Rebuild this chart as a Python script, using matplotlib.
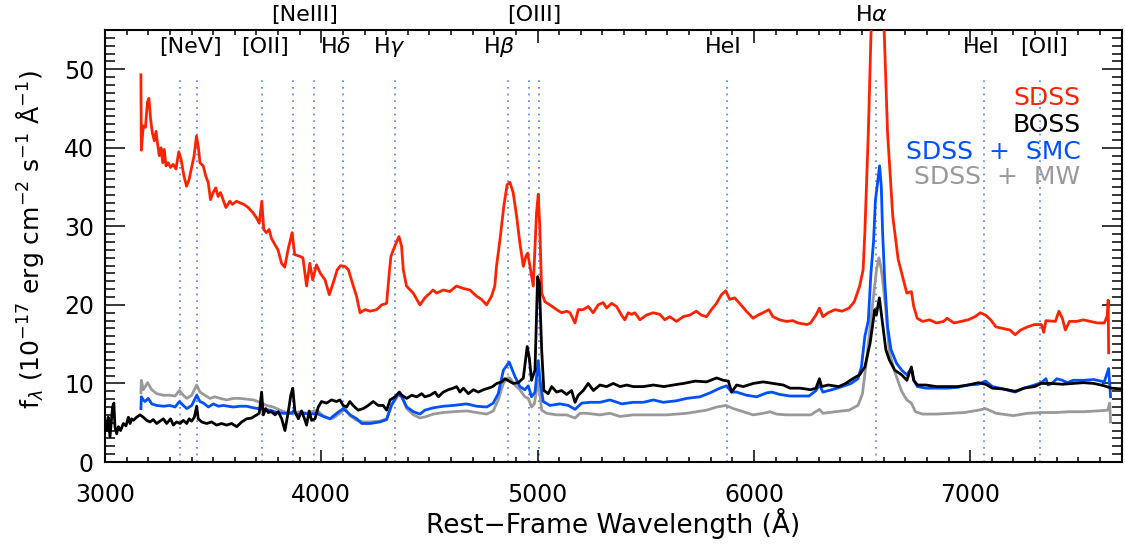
import matplotlib
matplotlib.use("Agg")
import matplotlib.pyplot as plt
import matplotlib.transforms as mtransforms
from matplotlib.ticker import MultipleLocator

plt.rcParams['font.family'] = ['DejaVu Sans']
plt.rcParams['mathtext.fontset'] = 'dejavusans'

# ---------------- data ----------------
red_wave = [3166, 3168, 3177, 3187, 3196, 3203, 3211, 3219, 3228, 3236, 3242, 3251, 3259, 3267, 3274,
            3282, 3292, 3303, 3315, 3328, 3341, 3352, 3365, 3377, 3389, 3402, 3412, 3423, 3432, 3439,
            3454, 3466, 3477, 3488, 3500, 3512, 3523, 3534, 3546, 3559, 3577, 3589, 3608, 3623, 3642,
            3662, 3685, 3700, 3713, 3725, 3734, 3746, 3759, 3769, 3785, 3800, 3816, 3831, 3846, 3865,
            3877, 3900, 3915, 3932, 3947, 3960, 3978, 3994, 4017, 4037, 4055, 4074, 4089, 4109, 4125,
            4148, 4163, 4179, 4202, 4225, 4256, 4279, 4302, 4314, 4322, 4340, 4359, 4371, 4379, 4394,
            4425, 4456, 4479, 4502, 4517, 4533, 4564, 4594, 4625, 4656, 4687, 4718, 4741, 4764, 4787,
            4802, 4810, 4826, 4844, 4859, 4872, 4887, 4903, 4918, 4934, 4946, 4954, 4965, 4980, 4995,
            5003, 5010, 5019, 5034, 5057, 5088, 5111, 5134, 5150, 5173, 5188, 5211, 5234, 5257, 5280,
            5303, 5319, 5342, 5365, 5388, 5403, 5419, 5434, 5450, 5473, 5503, 5534, 5565, 5588, 5611,
            5642, 5673, 5703, 5734, 5757, 5781, 5804, 5827, 5850, 5870, 5888, 5911, 5934, 5965, 5996,
            6019, 6042, 6069, 6088, 6119, 6150, 6180, 6203, 6246, 6262, 6287, 6303, 6319, 6343, 6375,
            6408, 6440, 6464, 6489, 6505, 6513, 6529, 6542, 6560, 6585, 6602, 6618, 6642, 6667, 6691,
            6707, 6728, 6739, 6755, 6780, 6812, 6844, 6877, 6893, 6925, 6957, 6990, 7022, 7047, 7071,
            7095, 7119, 7151, 7184, 7208, 7233, 7265, 7297, 7329, 7340, 7350, 7394, 7410, 7426, 7440,
            7459, 7491, 7523, 7555, 7588, 7620, 7634, 7638, 7640]
red_flux = [49.3, 39.7, 42.8, 42.6, 45.8, 46.3, 43.6, 41.9, 40.9, 42.1, 40.7, 39.0, 40.0, 38.1, 39.8,
            37.7, 38.1, 37.5, 37.9, 37.3, 39.5, 38.5, 36.4, 35.1, 36.0, 37.7, 39.0, 41.5, 40.0, 38.1,
            37.7, 36.4, 35.6, 33.4, 34.3, 34.9, 33.8, 34.3, 33.4, 32.4, 33.2, 32.8, 33.2, 33.0, 32.8,
            32.4, 31.7, 31.1, 30.4, 33.2, 29.6, 29.2, 29.6, 28.5, 27.7, 27.0, 25.3, 24.8, 27.0, 29.2,
            26.4, 26.2, 26.0, 22.4, 25.3, 23.2, 25.1, 24.1, 23.2, 21.3, 22.8, 24.5, 25.0, 24.9, 24.5,
            22.4, 21.1, 19.0, 19.4, 19.2, 19.4, 20.0, 20.2, 24.0, 26.2, 27.5, 28.7, 27.5, 24.5, 22.4,
            21.5, 20.0, 20.9, 21.5, 21.9, 21.5, 21.9, 21.7, 22.4, 22.1, 21.9, 21.1, 20.7, 20.0, 21.1,
            22.4, 24.9, 28.3, 32.6, 35.3, 35.6, 34.3, 31.3, 27.9, 24.9, 26.2, 26.6, 24.9, 22.4, 31.7,
            34.1, 30.0, 21.5, 20.4, 20.0, 19.4, 19.0, 19.2, 19.0, 17.7, 19.4, 19.4, 19.8, 19.0, 20.0,
            20.3, 19.6, 20.2, 19.8, 18.7, 18.1, 19.0, 18.8, 19.0, 18.1, 18.7, 19.0, 18.8, 18.1, 18.5,
            17.9, 18.5, 18.7, 19.2, 18.7, 18.5, 19.4, 20.2, 21.3, 21.8, 20.7, 20.9, 20.2, 19.2, 18.3,
            18.7, 19.0, 19.4, 18.5, 18.1, 17.9, 18.0, 17.7, 17.5, 17.7, 18.7, 19.6, 18.5, 19.0, 19.4,
            19.2, 19.6, 20.4, 22.4, 24.5, 29.2, 41.9, 55.1, 80.0, 80.0, 55.1, 41.9, 31.3, 25.8, 23.2,
            21.5, 21.7, 19.8, 18.3, 17.9, 18.1, 17.7, 17.9, 18.3, 17.7, 17.9, 18.1, 18.5, 19.0, 18.7,
            18.1, 17.2, 17.0, 16.8, 16.2, 16.8, 17.2, 17.5, 17.5, 16.5, 18.0, 17.9, 19.2, 18.3, 16.8,
            17.9, 17.9, 18.1, 17.9, 17.7, 17.7, 18.6, 20.6, 13.9]

boss_wave = [3000, 3008, 3015, 3023, 3035, 3041, 3046, 3054, 3062, 3072, 3085, 3097, 3108, 3116, 3123,
             3131, 3146, 3162, 3177, 3193, 3208, 3223, 3239, 3254, 3270, 3285, 3303, 3316, 3331, 3347,
             3362, 3378, 3389, 3400, 3413, 3424, 3431, 3447, 3470, 3493, 3516, 3539, 3562, 3585, 3609,
             3632, 3655, 3678, 3701, 3713, 3724, 3732, 3743, 3755, 3770, 3786, 3801, 3817, 3832, 3848,
             3859, 3868, 3878, 3894, 3909, 3925, 3932, 3944, 3955, 3971, 3986, 4001, 4024, 4047, 4070,
             4086, 4101, 4117, 4132, 4147, 4170, 4194, 4217, 4240, 4263, 4286, 4302, 4318, 4341, 4361,
             4372, 4395, 4418, 4441, 4464, 4479, 4503, 4526, 4541, 4564, 4587, 4610, 4626, 4641, 4657,
             4680, 4703, 4726, 4749, 4772, 4792, 4811, 4834, 4849, 4869, 4888, 4911, 4934, 4952, 4962,
             4972, 4988, 5000, 5008, 5019, 5029, 5049, 5065, 5088, 5111, 5134, 5157, 5173, 5188, 5211,
             5234, 5258, 5288, 5319, 5350, 5381, 5412, 5442, 5489, 5535, 5584, 5649, 5674, 5729, 5781,
             5828, 5859, 5882, 5897, 5920, 5951, 5997, 6043, 6090, 6136, 6167, 6214, 6263, 6287, 6303,
             6313, 6344, 6392, 6424, 6457, 6489, 6513, 6537, 6559, 6566, 6580, 6589, 6602, 6610, 6626,
             6651, 6683, 6707, 6728, 6739, 6756, 6796, 6844, 6893, 6940, 6990, 7038, 7071, 7103, 7152,
             7208, 7249, 7297, 7329, 7378, 7426, 7475, 7523, 7572, 7620, 7653, 7700]
boss_flux = [5.3, 4.0, 5.7, 3.2, 7.0, 7.5, 4.5, 3.6, 4.5, 4.0, 4.9, 4.6, 5.7, 4.9, 5.5,
             5.3, 5.7, 6.0, 5.7, 5.3, 5.1, 5.4, 4.9, 5.2, 5.5, 4.9, 5.5, 4.7, 5.1, 4.9,
             5.3, 4.9, 5.5, 5.2, 5.7, 7.1, 5.5, 5.1, 4.9, 5.1, 4.7, 4.9, 4.7, 4.9, 4.5,
             5.1, 5.5, 5.6, 6.0, 6.2, 8.9, 6.0, 6.8, 6.3, 6.4, 6.0, 6.4, 5.5, 4.0, 6.5,
             8.5, 9.4, 6.4, 5.5, 6.5, 5.3, 4.7, 6.5, 5.3, 5.5, 7.0, 7.7, 7.5, 7.9, 7.7,
             7.9, 7.2, 7.0, 7.7, 7.2, 6.6, 6.8, 7.2, 7.7, 7.2, 7.2, 6.6, 7.9, 8.3, 8.9,
             8.5, 8.1, 8.5, 8.3, 8.7, 8.3, 8.5, 8.9, 8.3, 8.9, 9.2, 9.4, 9.6, 8.9, 9.4,
             8.7, 9.2, 8.9, 9.2, 9.4, 9.6, 10.0, 10.2, 10.6, 10.3, 10.0, 10.1, 10.7, 14.7, 13.2,
             10.4, 11.7, 23.6, 22.8, 14.2, 9.1, 8.7, 9.6, 8.9, 9.1, 8.6, 9.1, 7.6, 8.5, 9.1,
             10.0, 9.1, 9.8, 9.6, 10.0, 9.6, 9.8, 9.6, 9.6, 9.8, 9.6, 9.9, 10.0, 10.3, 10.2,
             10.7, 10.4, 10.3, 8.9, 9.8, 9.6, 10.0, 10.2, 10.0, 9.8, 9.4, 9.4, 9.2, 9.4, 10.6,
             9.6, 9.8, 9.6, 10.0, 10.6, 11.1, 12.1, 15.1, 19.4, 18.7, 20.9, 18.9, 15.9, 14.3, 13.0,
             11.7, 11.1, 10.4, 12.1, 10.4, 9.8, 9.8, 9.6, 9.6, 9.6, 9.8, 10.1, 9.9, 9.4, 9.3,
             9.0, 9.4, 9.6, 10.0, 10.0, 9.9, 10.0, 10.1, 10.0, 9.7, 9.4, 9.3]

smc_wave = [3166, 3168, 3177, 3185, 3200, 3216, 3239, 3270, 3300, 3324, 3344, 3362, 3378, 3401, 3424,
            3439, 3455, 3478, 3501, 3524, 3547, 3570, 3593, 3624, 3655, 3686, 3709, 3732, 3763, 3794,
            3824, 3863, 3871, 3886, 3917, 3948, 3979, 4009, 4040, 4071, 4102, 4133, 4164, 4187, 4225,
            4271, 4302, 4325, 4356, 4372, 4395, 4426, 4456, 4479, 4518, 4564, 4610, 4672, 4718, 4765,
            4795, 4818, 4842, 4869, 4895, 4918, 4941, 4957, 4972, 4988, 5003, 5011, 5026, 5057, 5103,
            5142, 5173, 5204, 5242, 5288, 5335, 5389, 5442, 5489, 5535, 5581, 5643, 5689, 5751, 5797,
            5843, 5874, 5897, 5920, 5966, 6013, 6059, 6082, 6120, 6167, 6213, 6255, 6287, 6303, 6319,
            6360, 6408, 6449, 6481, 6497, 6513, 6529, 6541, 6553, 6562, 6570, 6581, 6589, 6595, 6605,
            6618, 6634, 6659, 6683, 6707, 6728, 6739, 6756, 6796, 6844, 6893, 6941, 6990, 7038, 7071,
            7103, 7152, 7208, 7249, 7297, 7329, 7350, 7360, 7378, 7400, 7426, 7450, 7475, 7523, 7572,
            7620, 7640, 7649]
smc_flux = [6.8, 8.3, 7.9, 7.7, 8.1, 7.4, 7.2, 7.1, 7.2, 7.0, 7.7, 7.2, 6.8, 7.2, 8.5,
            7.7, 7.5, 7.0, 7.4, 7.1, 7.2, 7.1, 7.0, 7.1, 7.1, 6.9, 6.8, 6.7, 6.6, 6.3,
            6.2, 6.2, 6.5, 6.0, 6.2, 6.1, 6.2, 5.8, 5.5, 6.2, 6.8, 6.0, 5.5, 4.9, 4.9,
            5.1, 5.4, 7.3, 8.7, 8.3, 7.0, 6.4, 6.1, 6.6, 6.9, 7.1, 7.2, 7.4, 7.1, 7.0,
            7.5, 8.7, 11.7, 12.7, 10.9, 9.6, 9.2, 9.7, 8.3, 8.9, 12.9, 10.4, 7.7, 7.2, 7.4,
            7.2, 6.7, 7.5, 7.6, 7.6, 7.9, 7.4, 7.6, 7.6, 7.9, 7.6, 7.8, 8.1, 8.3, 8.8,
            9.4, 9.7, 8.9, 8.9, 8.5, 8.3, 8.8, 8.9, 8.6, 8.4, 8.4, 8.4, 9.1, 9.8, 8.9,
            9.2, 9.6, 10.0, 10.6, 12.1, 16.0, 18.0, 24.0, 28.0, 33.4, 35.1, 37.7, 35.1, 29.2, 23.0,
            17.2, 14.3, 12.6, 11.7, 11.1, 11.9, 10.4, 9.6, 9.4, 9.4, 9.4, 9.5, 9.8, 9.9, 10.3,
            9.6, 9.3, 8.9, 9.4, 9.8, 10.1, 10.6, 9.8, 10.0, 10.6, 10.4, 10.1, 10.4, 10.4, 10.5,
            10.2, 11.9, 8.3]

mw_wave = [3166, 3168, 3177, 3197, 3216, 3239, 3270, 3300, 3324, 3344, 3362, 3378, 3401, 3424, 3439,
           3462, 3485, 3509, 3532, 3563, 3593, 3624, 3655, 3686, 3717, 3747, 3778, 3809, 3840, 3871,
           3902, 3932, 3979, 4009, 4040, 4056, 4086, 4110, 4133, 4164, 4194, 4225, 4271, 4302, 4325,
           4356, 4372, 4395, 4426, 4456, 4487, 4518, 4564, 4610, 4672, 4718, 4765, 4795, 4818, 4842,
           4860, 4872, 4895, 4918, 4941, 4957, 4972, 4985, 5003, 5019, 5042, 5088, 5134, 5173, 5196,
           5227, 5288, 5335, 5381, 5442, 5535, 5597, 5689, 5735, 5781, 5828, 5871, 5905, 5951, 5997,
           6043, 6074, 6105, 6151, 6213, 6263, 6303, 6319, 6376, 6440, 6481, 6502, 6521, 6546, 6567,
           6578, 6586, 6594, 6610, 6626, 6651, 6683, 6707, 6728, 6747, 6780, 6844, 6909, 6974, 7038,
           7071, 7120, 7200, 7265, 7329, 7394, 7459, 7523, 7588, 7636, 7645, 7649]
mw_flux = [8.8, 10.4, 9.2, 10.1, 9.2, 8.7, 8.5, 8.5, 8.4, 9.1, 8.5, 8.1, 8.5, 9.8, 8.9,
           8.5, 8.1, 8.3, 8.1, 7.9, 8.1, 8.1, 8.0, 7.9, 7.6, 7.2, 7.0, 6.6, 6.3, 6.3,
           6.4, 6.2, 6.6, 5.9, 5.5, 5.6, 6.2, 6.8, 5.9, 5.3, 5.1, 5.1, 5.2, 5.5, 7.2,
           8.5, 8.3, 6.8, 6.0, 5.6, 5.8, 6.1, 6.3, 6.4, 6.5, 6.3, 6.1, 6.5, 7.9, 10.0,
           10.7, 10.7, 9.8, 9.2, 8.3, 8.1, 7.0, 7.4, 10.4, 6.6, 6.2, 6.0, 6.0, 5.6, 6.2,
           6.2, 6.0, 6.2, 5.8, 6.0, 6.0, 6.0, 6.2, 6.4, 6.6, 7.0, 7.2, 6.8, 6.4, 6.0,
           6.2, 6.4, 6.1, 6.0, 6.0, 6.0, 6.7, 6.2, 6.4, 6.6, 7.2, 8.7, 13.0, 19.4, 24.5,
           26.0, 25.0, 23.5, 19.4, 14.0, 11.5, 9.0, 7.9, 7.5, 6.4, 6.1, 6.1, 6.2, 6.3, 6.6,
           6.8, 6.2, 5.9, 6.2, 6.3, 6.3, 6.4, 6.4, 6.5, 6.6, 7.5, 5.1]

line_waves = [3346, 3426, 3727, 3869, 3968, 4102, 4340, 4861, 4959, 5007, 5876, 6563, 7065, 7325]

low_labels = ['[NeV]', '[OII]', r'H$\delta$', r'H$\gamma$', r'H$\beta$', 'HeI', 'HeI', '[OII]']
low_label_x = [3393, 3740, 4068, 4315, 4820, 5859, 7052, 7340]
high_labels = ['[NeIII]', '[OIII]', r'H$\alpha$']
high_label_x = [3924, 4984, 6544]

legend_texts = ['SDSS', 'BOSS', 'SDSS  +  SMC', 'SDSS  +  MW']

# ---------------- styling ----------------
c_red = '#ff2200'
c_black = '#000000'
c_blue = '#0050ff'
c_gray = '#999999'
c_vline = '#4a78ff'

fig = plt.figure(figsize=(11.25, 5.45), dpi=100)
ax = fig.add_axes([105 / 1125, 1 - 462 / 545, 1016.6 / 1125, 432 / 545])

ax.vlines(line_waves, 0, 49.1, colors=c_vline, linestyles=(0, (1, 3)), linewidth=1.2, zorder=1)

ax.plot(red_wave, red_flux, color=c_red, lw=2.0, zorder=3)
ax.plot(mw_wave, mw_flux, color=c_gray, lw=2.0, zorder=3)
ax.plot(smc_wave, smc_flux, color=c_blue, lw=2.0, zorder=4)
ax.plot(boss_wave, boss_flux, color=c_black, lw=2.0, zorder=5)

ax.set_xlim(3000, 7700)
ax.set_ylim(0, 55)

ax.xaxis.set_major_locator(MultipleLocator(1000))
ax.xaxis.set_minor_locator(MultipleLocator(100))
ax.yaxis.set_major_locator(MultipleLocator(10))
ax.yaxis.set_minor_locator(MultipleLocator(1))

ax.tick_params(axis='both', which='both', direction='in', top=True, right=True, width=1.1)
ax.tick_params(axis='x', which='major', length=9, pad=15, labelsize=17)
ax.tick_params(axis='x', which='minor', length=3.6)
ax.tick_params(axis='y', which='major', length=14.4, pad=8, labelsize=17)
ax.tick_params(axis='y', which='minor', length=7.2)
for sp in ax.spines.values():
    sp.set_linewidth(1.5)

trans = mtransforms.blended_transform_factory(ax.transData, ax.transAxes)
for lab, xv in zip(low_labels, low_label_x):
    ax.text(xv, 0.9606, lab, transform=trans, ha='center', va='center', fontsize=16)
for lab, xv in zip(high_labels, high_label_x):
    ax.text(xv, 1.0347, lab, transform=trans, ha='center', va='center', fontsize=16, clip_on=False)

leg_colors = [c_red, c_black, c_blue, c_gray]
leg_y = [0.842, 0.780, 0.718, 0.659]
for t, c, yy in zip(legend_texts, leg_colors, leg_y):
    ax.text(0.9597, yy, t, transform=ax.transAxes, ha='right', va='center', fontsize=18, color=c)

fig.text(613 / 1125, 1 - 523 / 545, 'Rest\u2212Frame Wavelength (\u00c5)', ha='center', va='center', fontsize=19)
fig.text(30 / 1125, 1 - 240 / 545,
         r'f$_\lambda$ (10$^{-17}$ erg cm$^{-2}$ s$^{-1}$ $\mathrm{\AA}^{-1}$)',
         rotation=90, ha='center', va='center', fontsize=18)

fig.savefig('out.png', dpi=100)
